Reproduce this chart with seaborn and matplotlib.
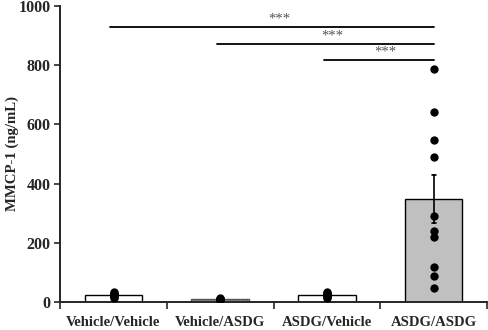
import matplotlib

matplotlib.use("Agg")
import matplotlib.pyplot as plt
import numpy as np
import pandas as pd
import seaborn as sns

# group labels and per-animal values (ng/mL)
groups = ["Vehicle/Vehicle", "Vehicle/ASDG", "ASDG/Vehicle", "ASDG/ASDG"]
vehicle_vehicle = [14, 17, 20, 22, 25, 27, 30, 33]
vehicle_asdg = [6, 7, 8, 9, 10, 10, 11, 12]
asdg_vehicle = [15, 18, 21, 24, 26, 28, 31, 34]
asdg_asdg = [787, 641, 546, 491, 292, 238, 221, 119, 89, 47]

bar_colors = ["white", "#a8a8a8", "white", "#c0c0c0"]

# significance brackets: (from group, to group, height)
sig_pairs = [(0, 3, 930), (1, 3, 872), (2, 3, 816)]
sig_labels = ["***", "***", "***"]

sns.set_style("white")
plt.rcParams["font.family"] = ["Liberation Serif", "DejaVu Serif"]
plt.rcParams["font.weight"] = "bold"

df = pd.DataFrame(
    {
        "group": np.repeat(
            groups,
            [len(vehicle_vehicle), len(vehicle_asdg), len(asdg_vehicle), len(asdg_asdg)],
        ),
        "value": vehicle_vehicle + vehicle_asdg + asdg_vehicle + asdg_asdg,
    }
)

fig = plt.figure(figsize=(4.89, 3.30), dpi=100)
ax = fig.add_axes([0.123, 0.085, 0.873, 0.897])

sns.barplot(
    data=df,
    x="group",
    y="value",
    hue="group",
    order=groups,
    palette=bar_colors,
    errorbar="se",
    width=0.54,
    edgecolor="black",
    linewidth=1.0,
    err_kws={"color": "black", "linewidth": 1.2},
    capsize=0.04,
    legend=False,
    ax=ax,
)
ax.patches[1].set_hatch("......")
ax.patches[1].set_edgecolor("#555555")

sns.stripplot(
    data=df,
    x="group",
    y="value",
    order=groups,
    color="black",
    jitter=False,
    size=6,
    ax=ax,
)

for (a, b, h), label in zip(sig_pairs, sig_labels):
    ax.plot([a - 0.03, b], [h, h], color="black", linewidth=1.3, clip_on=False)
    ax.text(
        (a + b) / 2 + 0.05,
        h + 5,
        label,
        ha="center",
        va="bottom",
        fontsize=10.5,
        color="#555555",
        fontweight="normal",
    )

ax.set_xlim(-0.5, 3.5)
ax.set_ylim(0, 1000)
ax.set_yticks([0, 200, 400, 600, 800, 1000])
ax.set_xticks([-0.5, 0.5, 1.5, 2.5, 3.5], minor=False)
ax.set_xticklabels([])
ax.set_xticks([0, 1, 2, 3], minor=True)
ax.set_xticklabels(groups, minor=True)
ax.tick_params(axis="x", which="major", direction="out", length=5, width=1.2, bottom=True)
ax.tick_params(axis="x", which="minor", length=0, labelsize=10.6, pad=10)
ax.tick_params(axis="y", direction="out", length=4, width=1.2, left=True, labelsize=11.5, pad=3)
for lbl in ax.get_xticklabels(minor=True) + ax.get_yticklabels():
    lbl.set_fontweight("bold")

ax.set_xlabel("")
ax.set_ylabel("MMCP-1 (ng/mL)", fontsize=10.6, fontweight="bold", labelpad=0)
ax.yaxis.set_label_coords(-0.097, 0.5)

sns.despine(ax=ax)
ax.spines["left"].set_linewidth(1.4)
ax.spines["bottom"].set_linewidth(1.4)

fig.savefig("out.png", dpi=100)
plt.close(fig)
